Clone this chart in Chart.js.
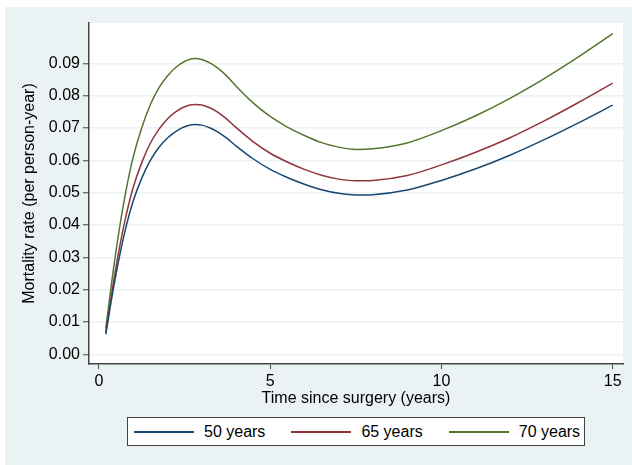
<!DOCTYPE html>
<html>
<head>
<meta charset="utf-8">
<script src="https://cdn.jsdelivr.net/npm/chart.js@4.4.0/dist/chart.umd.min.js"></script>
<style>
  html, body { margin: 0; padding: 0; background: #fff; }
  #wrap { position: relative; width: 632px; height: 465px; overflow: hidden; }
  #bg { position: absolute; left: 5px; top: 7px; right: 0; bottom: 0; background: #eaf2f3; }
  #chart { position: absolute; left: 0; top: 0; }
  #legend {
    position: absolute; left: 127px; top: 417px; width: 458px; height: 29px;
    box-sizing: border-box; border: 1px solid #404040; background: #fff;
    display: flex; align-items: center; padding-left: 6px;
    font: 16px "Liberation Sans", Arial, sans-serif; color: #000;
  }
  .item { display: flex; align-items: center; margin-right: 26px; }
  .item:last-child { margin-right: 0; }
  .swatch { display: inline-block; width: 60px; height: 2px; margin-right: 10px; }
</style>
</head>
<body>
<div id="wrap">
  <div id="bg"></div>
  <canvas id="chart" width="632" height="465"></canvas>
  <div id="legend"></div>
</div>
<script>
const years = [0.2, 0.4, 0.6, 0.8, 1.0, 1.25, 1.5, 1.75, 2.0, 2.25, 2.5, 2.8, 3.0, 3.25, 3.5, 3.75, 4.0, 4.5, 5.0, 5.5, 6.0, 6.5, 7.0, 7.5, 8.0, 9.0, 10.0, 11.0, 12.0, 13.0, 14.0, 15.0];

const age50 = [0.0062, 0.0190, 0.0303, 0.0398, 0.0474, 0.0545, 0.0600, 0.0640, 0.0669, 0.0690, 0.0704, 0.0711, 0.0709, 0.0700, 0.0686, 0.0667, 0.0645, 0.0605, 0.0572, 0.0547, 0.0526, 0.0509, 0.0498, 0.0493, 0.0494, 0.0508, 0.0538, 0.0574, 0.0616, 0.0664, 0.0716, 0.0771];
const age65 = [0.0067, 0.0207, 0.0330, 0.0433, 0.0516, 0.0593, 0.0653, 0.0696, 0.0728, 0.0751, 0.0766, 0.0773, 0.0771, 0.0762, 0.0747, 0.0726, 0.0702, 0.0658, 0.0622, 0.0595, 0.0572, 0.0554, 0.0542, 0.0537, 0.0538, 0.0553, 0.0586, 0.0625, 0.0670, 0.0722, 0.0779, 0.0839];
const age70 = [0.0080, 0.0245, 0.0390, 0.0512, 0.0610, 0.0701, 0.0772, 0.0824, 0.0861, 0.0888, 0.0906, 0.0915, 0.0912, 0.0901, 0.0883, 0.0859, 0.0830, 0.0778, 0.0736, 0.0703, 0.0677, 0.0655, 0.0641, 0.0634, 0.0636, 0.0654, 0.0692, 0.0738, 0.0792, 0.0853, 0.0920, 0.0992];

const seriesNames = ['50 years', '65 years', '70 years'];
const seriesColors = ['#1a476f', '#90353b', '#55752f'];
const xTicks = [0, 5, 10, 15];
const yTicks = [0, 0.01, 0.02, 0.03, 0.04, 0.05, 0.06, 0.07, 0.08, 0.09];

const fontFamily = '"Liberation Sans", Arial, sans-serif';
const toPoints = vals => years.map((t, i) => ({ x: t, y: vals[i] }));

const datasets = [age50, age65, age70].map((vals, i) => ({
    label: seriesNames[i],
    data: toPoints(vals),
    borderColor: seriesColors[i],
    borderWidth: 1.5,
    pointRadius: 0,
    fill: false,
    cubicInterpolationMode: 'monotone'
}));

// white plot region on top of the grey graph region
const plotBg = {
    id: 'plotBg',
    beforeDraw(chart) {
        const { ctx, chartArea: a } = chart;
        ctx.save();
        ctx.fillStyle = '#ffffff';
        ctx.fillRect(a.left, a.top, a.right - a.left, a.bottom - a.top);
        ctx.restore();
    }
};

new Chart(document.getElementById('chart'), {
    type: 'line',
    data: { datasets },
    plugins: [plotBg],
    options: {
        responsive: false,
        animation: false,
        layout: { padding: { left: 0, right: 9, top: 23, bottom: 57 } },
        plugins: { legend: { display: false }, tooltip: { enabled: false } },
        scales: {
            x: {
                type: 'linear',
                min: -0.29,
                max: 15.3,
                afterBuildTicks: s => { s.ticks = xTicks.map(v => ({ value: v })); },
                afterFit: s => { s.height = 44; },
                grid: { drawOnChartArea: false, tickLength: 5, tickColor: '#444', tickWidth: 1 },
                border: { color: '#444', width: 1.5 },
                ticks: { color: '#000', padding: 3, maxRotation: 0, font: { family: fontFamily, size: 16 } },
                title: {
                    display: true, text: 'Time since surgery (years)', color: '#000',
                    padding: { top: 0, bottom: 0 }, font: { family: fontFamily, size: 16 }
                }
            },
            y: {
                min: -0.003,
                max: 0.1025,
                afterBuildTicks: s => { s.ticks = yTicks.map(v => ({ value: v })); },
                afterFit: s => { s.width = 89; },
                grid: { color: '#eaf2f3', lineWidth: 1.5, tickLength: 6, tickColor: '#444', tickWidth: 1 },
                border: { color: '#444', width: 1.5 },
                ticks: {
                    color: '#000', padding: 3, font: { family: fontFamily, size: 16 },
                    callback: v => v.toFixed(2)
                },
                title: {
                    display: true, text: 'Mortality rate (per person-year)', color: '#000',
                    padding: { top: 20, bottom: 0 }, font: { family: fontFamily, size: 16 }
                }
            }
        }
    }
});

// legend frame below the plot, as in the original
const legend = document.getElementById('legend');
seriesNames.forEach((name, i) => {
    const item = document.createElement('div');
    item.className = 'item';
    const sw = document.createElement('span');
    sw.className = 'swatch';
    sw.style.backgroundColor = seriesColors[i];
    const label = document.createElement('span');
    label.textContent = name;
    item.appendChild(sw);
    item.appendChild(label);
    legend.appendChild(item);
});
</script>
</body>
</html>
